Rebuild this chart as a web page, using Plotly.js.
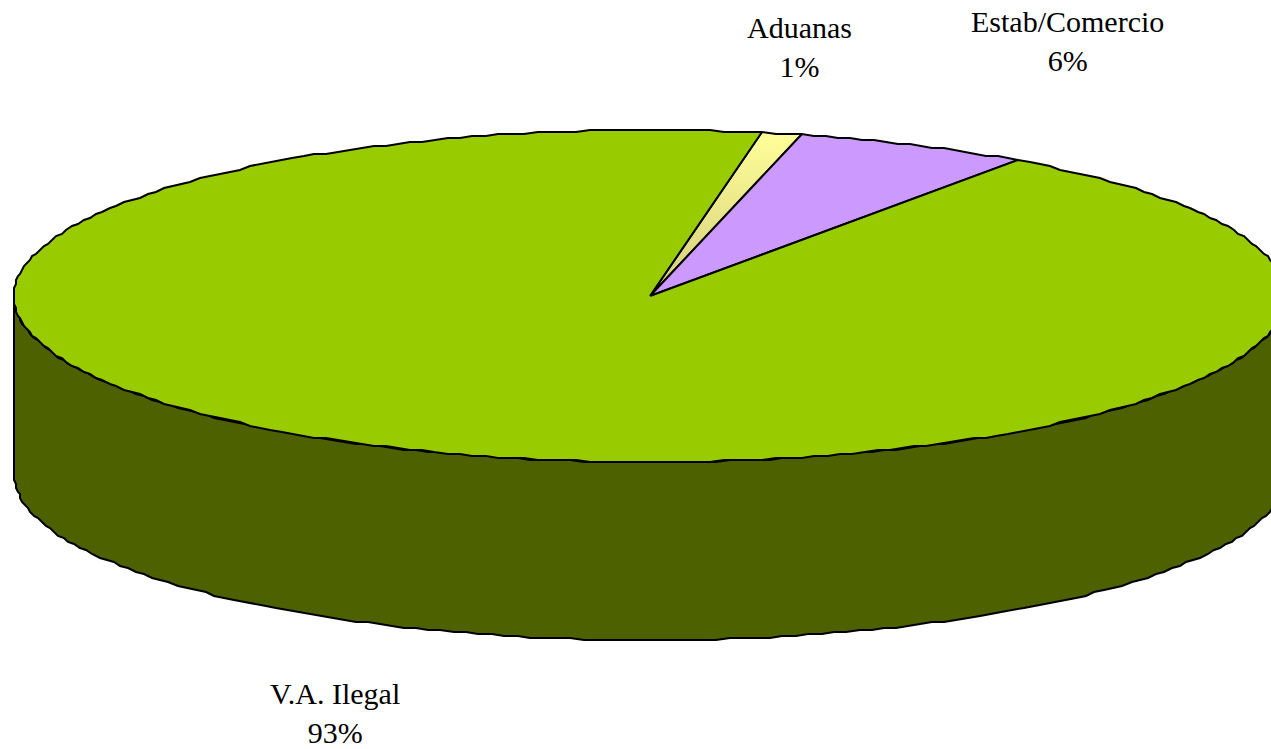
<!DOCTYPE html>
<html><head><meta charset="utf-8">
<script src="https://cdn.plot.ly/plotly-3.0.1.min.js"></script>
<style>html,body{margin:0;padding:0;background:#fff}#c{width:1271px;height:749px}</style>
</head><body><div id="c"></div>
<script>
const categories = ["Aduanas", "Estab/Comercio", "V.A. Ilegal"];
const values = [1, 6, 93];
const labels = ["1%", "6%", "93%"];
const sliceColors = ["#FFFF99", "#CC99FF", "#99CC00"];
const sideColor = "#4D6100";

// drawing geometry of the tilted disc, in page pixels
const cx = 650, cy = 296, rx = 636, ry = 166, depth = 178, startAngle = 10.2;
const labelAt = [[799, 47], [1067, 41], [335, 712.5]];
const grid = 2;
const snap = v => Math.round(v / grid) * grid;
const pt = (deg, dy) => {
  const a = deg * Math.PI / 180;
  return [snap(cx + rx * Math.sin(a)), snap(cy - ry * Math.cos(a) + (dy || 0))];
};
function arc(from, to, dy) {
  const n = Math.max(2, Math.ceil(Math.abs(to - from) / 1.2));
  const out = [];
  for (let i = 0; i <= n; i++) out.push(pt(from + (to - from) * i / n, dy));
  return out;
}
const traces = [];
const lineStyle = {color: "#000", width: 2};

// side wall: front half of the rim from the left edge round to the right edge
const wall = arc(270, 90, 0).concat(arc(90, 270, depth));
traces.push({
  type: "scatter", mode: "lines", x: wall.map(p => p[0]).concat(wall[0][0]),
  y: wall.map(p => p[1]).concat(wall[0][1]), fill: "toself", fillcolor: sideColor,
  line: lineStyle, hoverinfo: "skip", showlegend: false
});

// top face slices, computed from the values
const total = values.reduce((a, b) => a + b, 0);
let ang = startAngle;
values.forEach((v, i) => {
  const sweep = v / total * 360;
  const poly = [[cx, cy]].concat(arc(ang, ang + sweep, 0)).concat([[cx, cy]]);
  const t = {
    type: "scatter", mode: "lines", name: categories[i],
    x: poly.map(p => p[0]), y: poly.map(p => p[1]), fill: "toself",
    fillcolor: sliceColors[i], line: lineStyle, hoverinfo: "skip", showlegend: false
  };
  if (i === 0) {
    t.fillgradient = {type: "vertical", colorscale: [[0, "#D4CC7A"], [1, "#FFFF99"]]};
  }
  traces.push(t);
  ang += sweep;
});

const annotations = categories.map((c, i) => ({
  xref: "x", yref: "y", x: labelAt[i][0], y: labelAt[i][1],
  text: c + "<br>" + labels[i], showarrow: false, xanchor: "center", yanchor: "middle",
  align: "center", font: {family: "Liberation Serif, serif", size: 30, color: "#000"}
}));

const hidden = {visible: false, fixedrange: true};
Plotly.newPlot("c", traces, {
  width: 1271, height: 749, margin: {l: 0, r: 0, t: 0, b: 0},
  paper_bgcolor: "#fff", plot_bgcolor: "#fff", showlegend: false,
  xaxis: Object.assign({range: [0, 1271]}, hidden),
  yaxis: Object.assign({range: [749, 0]}, hidden),
  annotations: annotations
}, {displayModeBar: false, staticPlot: true});
</script></body></html>
